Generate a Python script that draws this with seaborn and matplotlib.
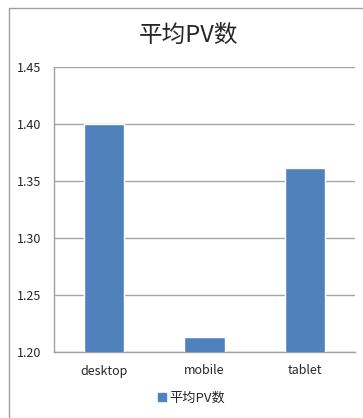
import numpy as np
import pandas as pd
import seaborn as sns
import matplotlib.pyplot as plt
from matplotlib.lines import Line2D

sns.set_style("white")
plt.rcParams['font.family'] = ['Noto Sans CJK SC', 'DejaVu Sans']

# data
categories = ['desktop', 'mobile', 'tablet']
avg_pv = [1.400, 1.213, 1.361]
series_name = '平均PV数'
y_ticks = [1.20, 1.25, 1.30, 1.35, 1.40, 1.45]

df = pd.DataFrame({'device': categories, 'pv': avg_pv})

fig = plt.figure(figsize=(3.63, 4.18), dpi=100)
ax = fig.add_axes([54/363, 1-352/418, (355-54)/363, (352-67)/418])

# outer chart border (only top and left are inside the crop)
fig.add_artist(Line2D([8.5/363, 1.0], [1-7.5/418, 1-7.5/418], transform=fig.transFigure,
                      color='#a0a0a0', linewidth=1.0))
fig.add_artist(Line2D([8.5/363, 8.5/363], [0.0, 1-7.5/418], transform=fig.transFigure,
                      color='#a0a0a0', linewidth=1.0))

sns.barplot(data=df, x='device', y='pv', color='#4f81bd', saturation=1, width=0.4, ax=ax, zorder=3)

ax.set_ylim(1.20, 1.45)
ax.set_yticks(y_ticks)
ax.set_yticklabels(['%.2f' % v for v in y_ticks], fontsize=9)
ax.tick_params(axis='x', labelsize=9, length=0, pad=9)
ax.tick_params(axis='y', length=0, pad=9)
ax.yaxis.grid(True, color='#a6a6a6', linewidth=1.0, zorder=0)
ax.set_axisbelow(True)
ax.set_xlabel('')
ax.set_ylabel('')
for s in ['top', 'right']:
    ax.spines[s].set_visible(False)
for s in ['left', 'bottom']:
    ax.spines[s].set_color('#a0a0a0')
    ax.spines[s].set_linewidth(1.0)

fig.text(189/363, 1-35/418, series_name, ha='center', va='center', fontsize=17)

handle = Line2D([], [], marker='s', linestyle='', color='#4f81bd', markersize=6)
fig.legend([handle], [series_name], loc='center', bbox_to_anchor=(191/363, 1-398/418),
           frameon=False, fontsize=9.5, handletextpad=0.1, handlelength=0.8)

fig.savefig('out.png', dpi=100)
